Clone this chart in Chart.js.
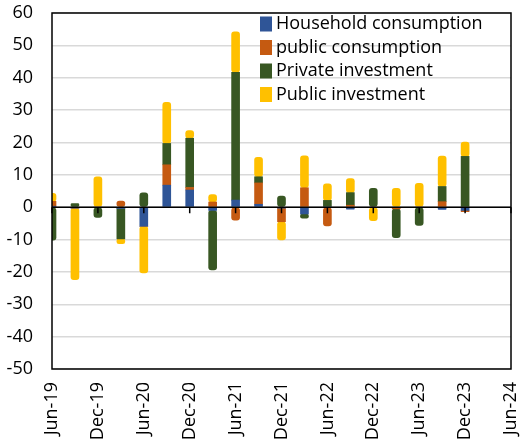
<!DOCTYPE html>
<html>
<head>
<meta charset="utf-8">
<script src="https://cdn.jsdelivr.net/npm/chart.js@4"></script>
<style>
  body { margin: 0; background: #fff; }
</style>
</head>
<body>
<canvas id="gdpChart" width="520" height="443"></canvas>
<script>
var quarters = ['Jun-19', 'Sep-19', 'Dec-19', 'Mar-20', 'Jun-20', 'Sep-20', 'Dec-20', 'Mar-21',
    'Jun-21', 'Sep-21', 'Dec-21', 'Mar-22', 'Jun-22', 'Sep-22', 'Dec-22', 'Mar-23',
    'Jun-23', 'Sep-23', 'Dec-23', 'Mar-24', 'Jun-24'];

var household = [0.3, -0.3, 0, -0.4, -5.9, 6.8, 5.3, -1.0, 2.2, 0.9, -0.3, -2.1, 0, -0.6, 0, 0, 0, -0.7, -1.0, null, null];
var publicCons = [1.5, 0, 0, 1.9, 0, 6.3, 0.8, 1.6, -4.0, 6.6, -4.2, 6.0, -5.8, 0.6, 0, -0.5, 0, 1.7, -0.4, null, null];
var privateInv = [-10.2, 1.1, -3.2, -9.4, 4.4, 6.6, 15.2, -18.4, 39.5, 1.9, 3.4, -1.3, 2.1, 3.9, 5.8, -8.9, -5.6, 4.7, 15.7, null, null];
var publicInv = [2.5, -22.1, 9.4, -1.5, -14.4, 12.7, 2.4, 2.3, 12.5, 6.0, -5.6, 9.9, 5.1, 4.3, -4.2, 5.8, 7.4, 9.4, 4.4, null, null];

var seriesNames = ['Household consumption', 'public consumption', 'Private investment', 'Public investment'];
var seriesColors = ['#2F5597', '#C55A11', '#385723', '#FFC000'];

var FONT = "'Open Sans', sans-serif";

function makeSet(i, values) {
    return {
        label: seriesNames[i],
        data: values,
        backgroundColor: seriesColors[i],
        barThickness: 8,
        borderRadius: 3,
        borderSkipped: false
    };
}

// zero axis, tick marks and frame drawn over the bars like the excel original
var axisPlugin = {
    id: 'axisPlugin',
    afterDatasetsDraw: function(chart) {
        var c = chart.ctx, a = chart.chartArea;
        var xs = chart.scales.x, ys = chart.scales.y;
        var y0 = ys.getPixelForValue(0);
        c.save();
        c.strokeStyle = '#000';
        c.lineWidth = 1.5;
        c.beginPath();
        c.moveTo(a.left, y0);
        c.lineTo(a.right, y0);
        for (var i = 0; i < quarters.length; i += 2) {
            var x = xs.getPixelForValue(i);
            c.moveTo(x, y0);
            c.lineTo(x, y0 + 6);
        }
        c.stroke();
        c.strokeRect(a.left, a.top, a.right - a.left, a.bottom - a.top);
        c.restore();
    }
};

// legend sits inside the plot, top right
var legendPlugin = {
    id: 'insideLegend',
    afterDraw: function(chart) {
        var c = chart.ctx, a = chart.chartArea;
        var left = a.left + 208, top = a.top + 11;
        c.save();
        c.font = '18px ' + FONT;
        c.textBaseline = 'middle';
        c.fillStyle = '#000';
        chart.data.datasets.forEach(function(ds, i) {
            var y = top + i * 23.5;
            c.fillStyle = ds.backgroundColor;
            c.fillRect(left, y - 7.5, 12, 15);
            c.fillStyle = '#000';
            c.fillText(ds.label, left + 16, y);
        });
        c.restore();
    }
};

var ctx = document.getElementById('gdpChart').getContext('2d');

var chart = new Chart(ctx, {
    type: 'bar',
    data: {
        labels: quarters,
        datasets: [
            makeSet(0, household),
            makeSet(1, publicCons),
            makeSet(2, privateInv),
            makeSet(3, publicInv)
        ]
    },
    options: {
        responsive: false,
        animation: false,
        layout: { padding: { top: 13, right: 9, bottom: 0, left: 0 } },
        plugins: {
            legend: { display: false },
            title: { display: false },
            tooltip: { enabled: false }
        },
        scales: {
            x: {
                stacked: true,
                offset: false,
                grid: { display: false, drawTicks: false },
                border: { display: false },
                ticks: {
                    autoSkip: false,
                    maxRotation: 90,
                    minRotation: 90,
                    padding: 13,
                    color: '#000',
                    font: { family: FONT, size: 18 },
                    callback: function(value, index) {
                        return index % 2 === 0 ? this.getLabelForValue(value) : '';
                    }
                },
                afterFit: function(scale) {
                    scale.height = 74;
                    scale.paddingLeft = 0;
                    scale.paddingRight = 0;
                }
            },
            y: {
                stacked: true,
                min: -50,
                max: 60,
                grid: { color: '#d9d9d9', lineWidth: 1.5, drawTicks: false },
                border: { display: false },
                ticks: {
                    stepSize: 10,
                    padding: 19,
                    color: '#000',
                    font: { family: FONT, size: 18 }
                },
                afterFit: function(scale) {
                    scale.width = 52;
                    scale.paddingTop = 0;
                    scale.paddingBottom = 0;
                }
            }
        }
    },
    plugins: [axisPlugin, legendPlugin]
});
</script>
</body>
</html>
